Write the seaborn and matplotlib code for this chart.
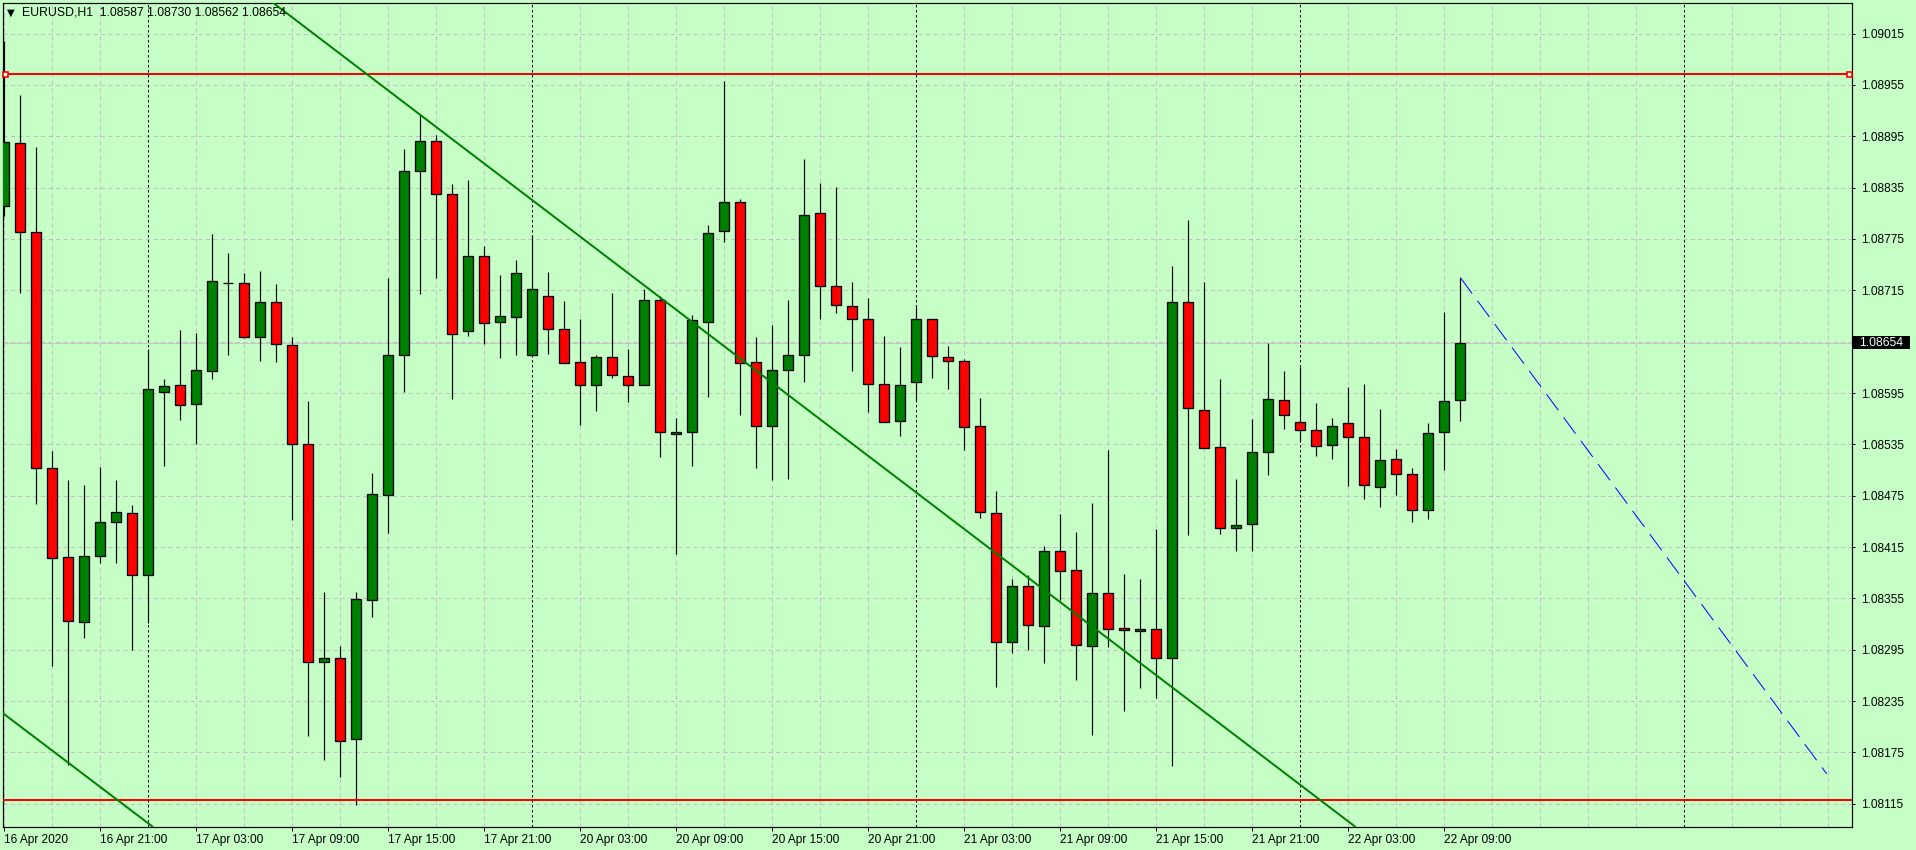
import matplotlib
matplotlib.use("Agg")
import matplotlib.pyplot as plt
import matplotlib.transforms as mtransforms
from matplotlib.patches import Rectangle
import numpy as np
import pandas as pd
import seaborn as sns

# ---------------- data (EURUSD, H1) ----------------
opens = [1.08814, 1.08887, 1.08783, 1.08507, 1.08403, 1.08327, 1.08405, 1.08444, 1.08455, 1.08382,
         1.08596, 1.08604, 1.08582, 1.08621, 1.08724, 1.08724, 1.08660, 1.08701, 1.08651, 1.08535,
         1.08281, 1.08286, 1.08191, 1.08353, 1.08476, 1.08639, 1.08855, 1.08889, 1.08827, 1.08668,
         1.08755, 1.08678, 1.08684, 1.08640, 1.08708, 1.08670, 1.08631, 1.08604, 1.08637, 1.08615,
         1.08604, 1.08704, 1.08547, 1.08549, 1.08678, 1.08784, 1.08818, 1.08631, 1.08556, 1.08622,
         1.08639, 1.08805, 1.08720, 1.08697, 1.08681, 1.08606, 1.08562, 1.08608, 1.08681, 1.08637,
         1.08632, 1.08556, 1.08455, 1.08304, 1.08369, 1.08323, 1.08410, 1.08388, 1.08300, 1.08361,
         1.08320, 1.08317, 1.08319, 1.08286, 1.08701, 1.08575, 1.08532, 1.08437, 1.08442, 1.08526,
         1.08587, 1.08561, 1.08552, 1.08534, 1.08560, 1.08544, 1.08485, 1.08518, 1.08500, 1.08458,
         1.08550, 1.08587]
highs = [1.09006, 1.08943, 1.08883, 1.08527, 1.08493, 1.08487, 1.08509, 1.08493, 1.08464, 1.08646,
         1.08611, 1.08669, 1.08665, 1.08781, 1.08759, 1.08735, 1.08738, 1.08722, 1.08661, 1.08586,
         1.08362, 1.08300, 1.08362, 1.08501, 1.08729, 1.08880, 1.08920, 1.08897, 1.08839, 1.08844,
         1.08767, 1.08733, 1.08751, 1.08780, 1.08737, 1.08703, 1.08681, 1.08640, 1.08712, 1.08647,
         1.08717, 1.08708, 1.08566, 1.08686, 1.08791, 1.08960, 1.08822, 1.08661, 1.08674, 1.08704,
         1.08869, 1.08840, 1.08836, 1.08725, 1.08706, 1.08662, 1.08649, 1.08697, 1.08681, 1.08650,
         1.08635, 1.08589, 1.08480, 1.08378, 1.08382, 1.08416, 1.08454, 1.08433, 1.08467, 1.08528,
         1.08383, 1.08378, 1.08436, 1.08743, 1.08797, 1.08725, 1.08611, 1.08495, 1.08565, 1.08654,
         1.08621, 1.08625, 1.08583, 1.08566, 1.08602, 1.08605, 1.08576, 1.08530, 1.08508, 1.08560,
         1.08690, 1.08730]
lows = [1.08802, 1.08712, 1.08465, 1.08276, 1.08160, 1.08309, 1.08396, 1.08396, 1.08295, 1.08326,
        1.08510, 1.08563, 1.08535, 1.08611, 1.08639, 1.08659, 1.08633, 1.08631, 1.08447, 1.08194,
        1.08166, 1.08146, 1.08114, 1.08333, 1.08432, 1.08596, 1.08711, 1.08730, 1.08588, 1.08662,
        1.08652, 1.08636, 1.08639, 1.08638, 1.08641, 1.08630, 1.08558, 1.08574, 1.08613, 1.08584,
        1.08604, 1.08520, 1.08407, 1.08510, 1.08590, 1.08772, 1.08569, 1.08507, 1.08493, 1.08495,
        1.08608, 1.08682, 1.08688, 1.08621, 1.08573, 1.08561, 1.08545, 1.08587, 1.08612, 1.08600,
        1.08528, 1.08449, 1.08251, 1.08291, 1.08295, 1.08279, 1.08353, 1.08260, 1.08195, 1.08298,
        1.08223, 1.08250, 1.08239, 1.08159, 1.08429, 1.08531, 1.08430, 1.08411, 1.08411, 1.08499,
        1.08553, 1.08538, 1.08522, 1.08518, 1.08486, 1.08471, 1.08462, 1.08476, 1.08444, 1.08448,
        1.08505, 1.08562]
closes = [1.08888, 1.08783, 1.08507, 1.08402, 1.08329, 1.08405, 1.08444, 1.08456, 1.08382, 1.08600,
          1.08603, 1.08581, 1.08622, 1.08726, 1.08724, 1.08661, 1.08701, 1.08652, 1.08535, 1.08281,
          1.08286, 1.08189, 1.08354, 1.08477, 1.08639, 1.08855, 1.08889, 1.08827, 1.08664, 1.08755,
          1.08677, 1.08685, 1.08735, 1.08717, 1.08670, 1.08630, 1.08604, 1.08637, 1.08616, 1.08604,
          1.08704, 1.08549, 1.08549, 1.08680, 1.08782, 1.08818, 1.08630, 1.08556, 1.08622, 1.08639,
          1.08803, 1.08720, 1.08698, 1.08681, 1.08605, 1.08561, 1.08604, 1.08681, 1.08638, 1.08632,
          1.08555, 1.08456, 1.08304, 1.08369, 1.08324, 1.08410, 1.08387, 1.08301, 1.08361, 1.08319,
          1.08318, 1.08319, 1.08286, 1.08701, 1.08577, 1.08531, 1.08437, 1.08441, 1.08526, 1.08588,
          1.08569, 1.08552, 1.08533, 1.08557, 1.08544, 1.08487, 1.08517, 1.08500, 1.08458, 1.08548,
          1.08586, 1.08654]

time_labels = ["16 Apr 2020", "16 Apr 21:00", "17 Apr 03:00", "17 Apr 09:00", "17 Apr 15:00",
               "17 Apr 21:00", "20 Apr 03:00", "20 Apr 09:00", "20 Apr 15:00", "20 Apr 21:00",
               "21 Apr 03:00", "21 Apr 09:00", "21 Apr 15:00", "21 Apr 21:00", "22 Apr 03:00",
               "22 Apr 09:00"]
label_bars = [0, 6, 12, 18, 24, 30, 36, 42, 48, 54, 60, 66, 72, 78, 84, 90]
day_start_bars = [9, 33, 57, 81, 105]

price_grid = [1.08115, 1.08175, 1.08235, 1.08295, 1.08355, 1.08415, 1.08475, 1.08535,
              1.08595, 1.08655, 1.08715, 1.08775, 1.08835, 1.08895, 1.08955, 1.09015]
price_labels = [1.08115, 1.08175, 1.08235, 1.08295, 1.08355, 1.08415, 1.08475, 1.08535,
                1.08595, 1.08715, 1.08775, 1.08835, 1.08895, 1.08955, 1.09015]

symbol = "EURUSD,H1"
resistance = 1.08968
support = 1.08119
trend_upper = [(26, 1.08920), (73, 1.08251)]
trend_lower = [(4, 1.08163), (10, 1.08078)]
blue_ray_x = [91, 113.9]
blue_ray_y = [1.08730, 1.08150]

df = pd.DataFrame({"open": opens, "high": highs, "low": lows, "close": closes})
df["bar"] = np.arange(len(df))
last_price = closes[-1]

# ---------------- style ----------------
sns.set_theme(style="ticks")
plt.rcParams["font.family"] = ["Liberation Sans", "DejaVu Sans"]
BG = "#C6FFC6"
GRID = "#C4BCC4"
W, H = 1916, 850

fig = plt.figure(figsize=(W / 100, H / 100), dpi=100, facecolor=BG)
left_px, right_px, top_px, bot_px = 2.7, 1852, 2.7, 826.7
ax = fig.add_axes([left_px / W, 1 - bot_px / H, (right_px - left_px) / W, (bot_px - top_px) / H])
ax.set_facecolor(BG)

px = 0.72  # 1 pixel in points

# grid
for p in price_grid:
    ax.axhline(p, color=GRID, lw=px, linestyle=(0, (4, 3.5)), zorder=0.5)
for b in range(0, 117, 3):
    if b not in day_start_bars:
        ax.axvline(b, color=GRID, lw=px, linestyle=(0, (4, 3.5)), zorder=0.5)
for b in day_start_bars:
    ax.axvline(b, color="black", lw=px, linestyle=(0, (2.5, 2.5)), zorder=0.6)

# current price line
ax.axhline(last_price, color="#C8C8C8", lw=px, zorder=0.7)

# candles
colors = np.where(df["close"] > df["open"], "#008000",
                  np.where(df["close"] < df["open"], "#FF0000", "black"))
ax.vlines(df["bar"], df["low"], df["high"], color="black", lw=px * 1.2, zorder=2.5)
body_bottom = np.minimum(df["open"], df["close"])
body_height = np.abs(df["close"] - df["open"])
ax.bar(df["bar"], body_height, bottom=body_bottom, width=0.62, color=colors,
       edgecolor="black", linewidth=px * 1.3, zorder=3)

# objects
ax.axhline(resistance, color="#FF0000", lw=px * 2, zorder=4)
ax.axhline(support, color="#FF0000", lw=px * 2, zorder=4)
ax.plot([0.04, 115.3], [resistance, resistance], "s", ms=3.6, mfc="white", mec="#FF0000",
        mew=1.2, clip_on=False, zorder=5)
ax.axline(trend_upper[0], trend_upper[1], color="#008000", lw=px * 2, zorder=4)
ax.axline(trend_lower[0], trend_lower[1], color="#008000", lw=px * 2, zorder=4)
sns.lineplot(x=blue_ray_x, y=blue_ray_y, ax=ax, color="#0000FF", lw=px,
             linestyle=(0, (20, 9)), zorder=4, legend=False)

# axes / ticks
ax.set_xlim(-0.1, 115.48)
ax.set_ylim(1.080883, 1.090511)
ax.set_xlabel("")
ax.set_ylabel("")
ax.yaxis.tick_right()
ax.set_yticks(price_labels)
ax.set_yticklabels([f"{v:.5f}" for v in price_labels])
ax.set_xticks(label_bars)
ax.set_xticklabels(time_labels, ha="left")
ax.tick_params(axis="y", which="both", direction="out", length=2, width=px, pad=4.5,
               labelsize=8.6, colors="black", right=True, left=False)
ax.tick_params(axis="x", which="both", direction="out", length=3, width=px, pad=2.5,
               labelsize=8.6, colors="black")
for s in ax.spines.values():
    s.set_color("black")
    s.set_linewidth(px * 1.2)
    s.set_visible(True)

# current price box
trans = mtransforms.blended_transform_factory(ax.transAxes, ax.transData)
axw = right_px - left_px
ax.add_patch(Rectangle((1 + 1.5 / axw, last_price - 0.000078), 57 / axw, 0.000156,
                       transform=trans, clip_on=False, facecolor="black", edgecolor="none", zorder=6))
ax.text(1 + 7.5 / axw, last_price, f"{last_price:.5f}", transform=trans, color="#F0FFFF",
        fontsize=8.8, va="center", ha="left", zorder=7, clip_on=False)

# header
fig.text(10.8 / W, 1 - 12.3 / H, "▼", fontsize=7.2, ha="center", va="center",
         family=["DejaVu Sans"], color="black")
fig.text(21.7 / W, 1 - 12.8 / H,
         f"{symbol}  {opens[-1]:.5f} {highs[-1]:.5f} {lows[-1]:.5f} {closes[-1]:.5f}",
         fontsize=8.8, ha="left", va="center", color="black")

fig.savefig("out.png", dpi=100, facecolor=BG)
